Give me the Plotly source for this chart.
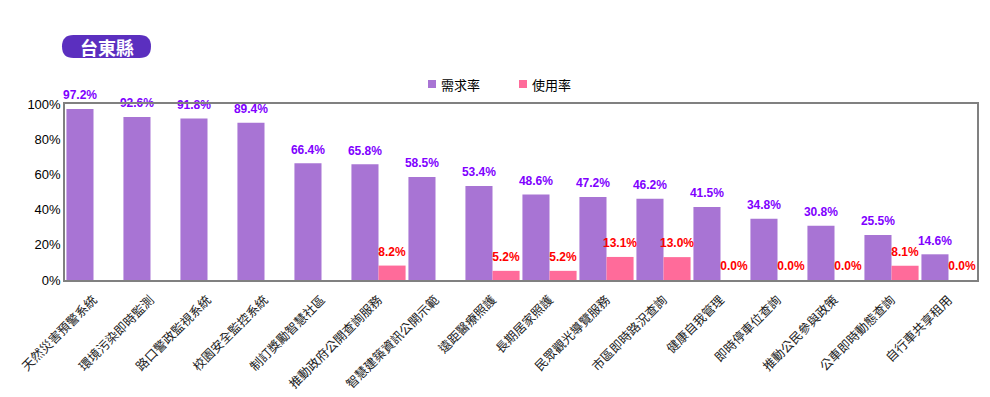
import plotly.graph_objects as go

categories = ["天然災害預警系統", "環境污染即時監測", "路口警政監視系統", "校園安全監控系統",
              "制訂獎勵智慧社區", "推動政府公開查詢服務", "智慧建築資訊公開示範", "遠距醫療照護",
              "長期居家照護", "民眾觀光導覽服務", "市區即時路況查詢", "健康自我管理",
              "即時停車位查詢", "推動公民參與政策", "公車即時動態查詢", "自行車共享租用"]
demand = [97.2, 92.6, 91.8, 89.4, 66.4, 65.8, 58.5, 53.4, 48.6, 47.2, 46.2, 41.5, 34.8, 30.8, 25.5, 14.6]
usage = [None, None, None, None, None, 8.2, None, 5.2, 5.2, 13.1, 13.0, 0.0, 0.0, 0.0, 8.1, 0.0]
y_ticks = [0, 20, 40, 60, 80, 100]
y_tick_labels = ["0%", "20%", "40%", "60%", "80%", "100%"]
title_text = "台東縣"
series_names = ["需求率", "使用率"]
series_colors = ["#A874D4", "#FF6B9A"]
label_colors = ["#8000FF", "#FF0000"]

FONT = "Liberation Sans, Arial, Noto Sans CJK TC, sans-serif"
OFF = 8  # page body margin
W, H = 990 - OFF, 397 - OFF
# plot area in page pixels: 65..977 x 104..280
L, R, T, B = 65 - OFF, 990 - 977, 104 - OFF, 397 - 280
PW, PH = W - L - R, H - T - B


def px(x):
    return (x - OFF - L) / PW


def py(y):
    return (H - B - (y - OFF)) / PH


fig = go.Figure()
for vals, name, col, grp in zip([demand, usage], series_names, series_colors, ["a", "b"]):
    fig.add_trace(go.Bar(
        x=categories, y=vals, name=name, offsetgroup=grp,
        marker=dict(color=col, line=dict(width=0)),
        hoverinfo="x+y",
    ))
for vals, name, lcol, grp in zip([demand, usage], series_names, label_colors, ["a", "b"]):
    fig.add_trace(go.Scatter(
        x=categories, y=vals, name=name + " label", offsetgroup=grp,
        mode="markers+text", marker=dict(size=9, opacity=0),
        text=[None if v is None else f"{v:.1f}%" for v in vals],
        textposition="top center",
        textfont=dict(color=lcol, size=12, family=FONT, weight="bold"),
        cliponaxis=False, showlegend=False, hoverinfo="skip",
    ))

fig.update_layout(
    width=W, height=H,
    margin=dict(l=L, r=R, t=T, b=B, autoexpand=False),
    paper_bgcolor="white", plot_bgcolor="white",
    barmode="group", bargap=0.05, bargroupgap=0,
    scattermode="group", scattergap=0.05,
    font=dict(family=FONT, size=12, color="#000000"),
    showlegend=False,
)
fig.update_xaxes(
    tickangle=-45, tickfont=dict(size=12.5, color="#222222", family="Noto Sans CJK TC"),
    ticklabelstandoff=6,
    showline=True, linecolor="#808080", linewidth=1.5, mirror=True,
    ticks="", showgrid=False,
)
fig.update_yaxes(
    range=[0, 100], tickvals=y_ticks, ticktext=y_tick_labels,
    tickfont=dict(size=13, color="#000000"),
    showline=True, linecolor="#808080", linewidth=1.5, mirror=True,
    ticks="", showgrid=False, zeroline=False,
)

# custom legend
legend_x = [428, 519]
for name, color, lx in zip(series_names, series_colors, legend_x):
    fig.add_shape(type="rect", xref="paper", yref="paper",
                  x0=px(lx), x1=px(lx + 8), y0=py(88), y1=py(80),
                  fillcolor=color, line=dict(width=0))
    fig.add_annotation(
        xref="paper", yref="paper", x=px(lx + 11), y=py(84),
        xanchor="left", yanchor="middle", showarrow=False,
        text=name, font=dict(size=13, family="Noto Sans CJK TC", color="#000"),
    )

# title badge (rounded)
x0, x1, y0, y1 = px(62), px(151), py(58), py(35)
rx = 11.5 / PW
ry = 11.5 / PH
path = (f"M {x0+rx},{y0} L {x1-rx},{y0} "
        f"Q {x1},{y0} {x1},{y0+ry} L {x1},{y1-ry} Q {x1},{y1} {x1-rx},{y1} "
        f"L {x0+rx},{y1} Q {x0},{y1} {x0},{y1-ry} L {x0},{y0+ry} Q {x0},{y0} {x0+rx},{y0} Z")
fig.add_shape(type="path", xref="paper", yref="paper", path=path,
              fillcolor="#5B2FBF", line=dict(width=0), layer="above")
fig.add_annotation(xref="paper", yref="paper",
                   x=px(106.5), y=py(46.5),
                   text=title_text, showarrow=False,
                   font=dict(size=18, color="white", family="Noto Sans CJK TC", weight="bold"),
                   xanchor="center", yanchor="middle")

fig.write_html("out.html")
